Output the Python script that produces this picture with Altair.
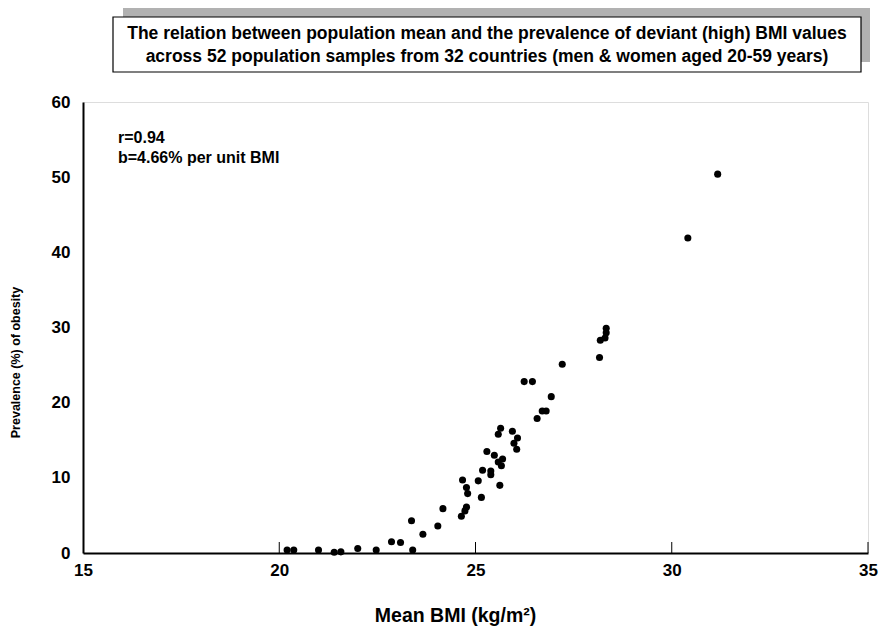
import altair as alt
import pandas as pd

# Mean BMI (kg/m2) of each population sample
bmi = [20.20, 20.37, 21.00, 21.40, 21.57, 22.00, 22.47, 22.86, 23.09, 23.40,
       23.37, 23.66, 24.04, 24.17, 24.64, 24.73, 24.77, 24.77, 24.80, 24.67,
       25.07, 25.15, 25.18, 25.39, 25.39, 25.62, 25.58, 25.69, 25.66, 25.29,
       25.48, 25.58, 25.64, 25.94, 26.07, 25.98, 26.05, 26.24, 26.45, 26.57,
       26.70, 26.80, 26.93, 27.21, 28.16, 28.18, 28.30, 28.33, 28.33, 30.41,
       31.17]
# Prevalence (%) of obesity
prev = [0.4, 0.4, 0.4, 0.1, 0.15, 0.6, 0.4, 1.5, 1.4, 0.4,
        4.3, 2.5, 3.6, 5.9, 4.9, 5.6, 6.1, 8.7, 7.9, 9.7,
        9.6, 7.4, 11.0, 10.9, 10.4, 9.0, 12.1, 12.5, 11.6, 13.5,
        13.0, 15.8, 16.6, 16.2, 15.3, 14.6, 13.8, 22.8, 22.8, 17.9,
        18.9, 18.9, 20.8, 25.1, 26.0, 28.3, 28.6, 29.3, 29.9, 41.9,
        50.4]

x_ticks = [15, 20, 25, 30, 35]
inner_ticks = [20, 25, 30, 35]
y_ticks = [0, 10, 20, 30, 40, 50, 60]
title_lines = [
    "The relation between population mean and the prevalence of deviant (high) BMI values",
    "across 52 population samples from 32 countries (men & women aged 20-59 years)",
]
annotations = ["r=0.94", "b=4.66% per unit BMI"]

FONT = "Liberation Sans"
W, H = 785, 451

df = pd.DataFrame({"bmi": bmi, "prev": prev})
xs = alt.Scale(domain=[15, 35], nice=False)
ys = alt.Scale(domain=[0, 60], nice=False)

points = alt.Chart(df).mark_circle(size=50, color="black", opacity=1).encode(
    x=alt.X("bmi:Q", scale=xs,
            axis=alt.Axis(values=x_ticks, title="Mean BMI (kg/m²)", ticks=False,
                          domainColor="black", domainWidth=2, labelPadding=9,
                          labelFontSize=17, labelFontWeight="bold", labelColor="black",
                          labelFont=FONT, labelFlush=False, grid=False,
                          titleFont=FONT, titleFontSize=19.5, titleFontWeight="bold",
                          titleColor="black", titleX=372, titleY=53)),
    y=alt.Y("prev:Q", scale=ys,
            axis=alt.Axis(values=y_ticks, title="Prevalence (%) of obesity", ticks=False,
                          domainColor="black", domainWidth=2, labelPadding=13,
                          labelFontSize=17, labelFontWeight="bold", labelColor="black",
                          labelFont=FONT, grid=False,
                          titleFont=FONT, titleFontSize=12.5, titleFontWeight="bold",
                          titleColor="black", titleX=-61, titleY=260)),
)

tick_df = pd.DataFrame({"t": inner_ticks})
ticks = alt.Chart(tick_df).mark_rule(color="black", strokeWidth=1).encode(
    x=alt.X("t:Q", scale=xs), y=alt.value(H - 11), y2=alt.value(H)
)

one = pd.DataFrame({"k": [0]})
shadow = alt.Chart(one).mark_rect(color="#a8a8a8", opacity=0.9).encode(
    x=alt.value(40), x2=alt.value(787), y=alt.value(-96), y2=alt.value(-40)
)
box = alt.Chart(one).mark_rect(fill="white", stroke="black", strokeWidth=1.2).encode(
    x=alt.value(30), x2=alt.value(778), y=alt.value(-85), y2=alt.value(-30)
)
tdf = pd.DataFrame({"line": title_lines, "i": [0, 1]})
title_txt = alt.Chart(tdf).mark_text(font=FONT, fontSize=17.5, fontWeight="bold",
                                     color="black", align="center", baseline="middle").encode(
    text="line:N",
    x=alt.value(404),
    y=alt.Y("i:Q", scale=alt.Scale(domain=[0, 1], range=[-68, -45]), axis=None),
)
adf = pd.DataFrame({"line": annotations, "i": [0, 1]})
ann = alt.Chart(adf).mark_text(font=FONT, fontSize=16, fontWeight="bold",
                               color="black", align="left", baseline="middle").encode(
    text="line:N",
    x=alt.value(35),
    y=alt.Y("i:Q", scale=alt.Scale(domain=[0, 1], range=[36, 56]), axis=None),
)

chart = alt.layer(shadow, box, title_txt, ann, ticks, points).resolve_scale(
    y="independent"
).properties(
    width=W, height=H,
    autosize=alt.AutoSizeParams(type="none"),
    padding={"left": 75, "top": 94, "right": 11, "bottom": 80},
).configure_view(stroke=None).configure(background="white")

chart.save("out.html", embed_options={"renderer": "svg", "actions": False})
